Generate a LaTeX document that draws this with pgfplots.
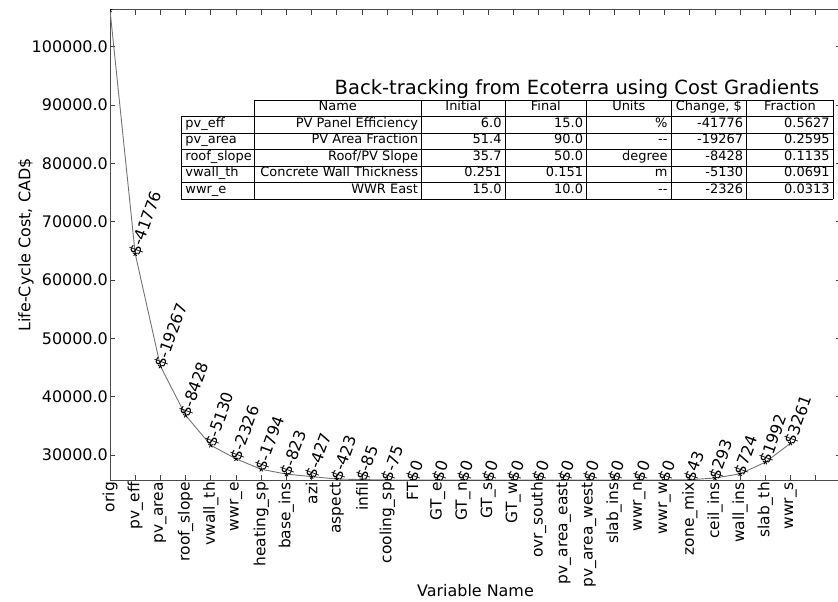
\documentclass[border=0pt]{standalone}
\usepackage{fontspec}
\setmainfont{DejaVu Sans}
\usepackage{pgfplots}
\pgfplotsset{compat=1.18}
\begin{document}
\begin{tikzpicture}
\path[use as bounding box] (0,0) rectangle (838bp,602bp);
\begin{axis}[
  at={(110bp,122bp)}, anchor=south west,
  width=731bp, height=470bp, scale only axis,
  xmin=0, xmax=29, ymin=25713, ymax=106267,
  xtick={0,...,28},
  xticklabels={orig,pv\_eff,pv\_area,roof\_slope,vwall\_th,wwr\_e,heating\_sp,base\_ins,azi,aspect,infil,cooling\_sp,FT,GT\_e,GT\_n,GT\_s,GT\_w,ovr\_south,pv\_area\_east,pv\_area\_west,slab\_ins,wwr\_n,wwr\_w,zone\_mix,ceil\_ins,wall\_ins,slab\_th,wwr\_s,{}},
  x tick label style={rotate=90, anchor=east, font=\fontsize{15.5}{18}\selectfont, inner sep=2bp},
  ytick={30000,40000,...,100000},
  scaled y ticks=false,
  y tick label style={font=\fontsize{16}{19}\selectfont, inner sep=2bp,
    /pgf/number format/fixed, /pgf/number format/fixed zerofill,
    /pgf/number format/precision=1, /pgf/number format/1000 sep={}},
  /pgf/number format/assume math mode=true,
  tick align=inside, major tick length=5bp,
  tick style={black!75, line width=0.8bp},
  axis line style={black!70, line width=1bp},
  clip marker paths=true,
  xlabel={Variable Name}, ylabel={Life-Cycle Cost, CAD\$},
  xlabel style={at={(axis description cs:0.5,-0.236)}, anchor=center, font=\fontsize{16}{19}\selectfont},
  ylabel style={at={(axis description cs:-0.115,0.5)}, anchor=center, font=\fontsize{16}{19}\selectfont},
]
\addplot[black!55, line width=0.9bp, mark=star, mark size=2.6bp,
  mark options={black, solid, line width=0.8bp}]
coordinates {
(0,106267) (1,64491) (2,45224) (3,36796) (4,31666) (5,29340) (6,27546)
(7,26723) (8,26296) (9,25873) (10,25788) (11,25713) (12,25713) (13,25713)
(14,25713) (15,25713) (16,25713) (17,25713) (18,25713) (19,25713) (20,25713)
(21,25713) (22,25713) (23,25756) (24,26049) (25,26773) (26,28765) (27,32026)
};
\addplot[draw=none, mark=none,
  point meta=explicit symbolic, nodes near coords,
  every node near coord/.append style={rotate=70, anchor=west, inner sep=0bp, xshift=-1bp, font=\fontsize{16}{19}\selectfont, black}]
coordinates {
(1,64491) [\$-41776]
(2,45224) [\$-19267]
(3,36796) [\$-8428]
(4,31666) [\$-5130]
(5,29340) [\$-2326]
(6,27546) [\$-1794]
(7,26723) [\$-823]
(8,26296) [\$-427]
(9,25873) [\$-423]
(10,25788) [\$-85]
(11,25713) [\$-75]
(12,25713) [\$0]
(13,25713) [\$0]
(14,25713) [\$0]
(15,25713) [\$0]
(16,25713) [\$0]
(17,25713) [\$0]
(18,25713) [\$0]
(19,25713) [\$0]
(20,25713) [\$0]
(21,25713) [\$0]
(22,25713) [\$0]
(23,25756) [\$43]
(24,26049) [\$293]
(25,26773) [\$724]
(26,28765) [\$1992]
(27,32026) [\$3261]
};
\end{axis}
\begin{scope}[shift={(0,602bp)}, x=1bp, y=-1bp, line width=0.9bp]
\node[anchor=base, font=\fontsize{19.6}{23}\selectfont, inner sep=0] at (577,95) {Back-tracking from Ecoterra using Cost Gradients};
\fill[white] (181,116.5) rectangle (833,199);
\fill[white] (254,100) rectangle (833,116.5);
\draw (254,100) -- (833,100);
\foreach \y in {116.5,133,149.5,166,182.5,199} \draw (181,\y) -- (833,\y);
\draw (181,116.5) -- (181,199);
\foreach \x in {254,421.7,505,586.7,671,746.7,833} \draw (\x,100) -- (\x,199);
\begin{scope}[every node/.style={font=\fontsize{13}{15}\selectfont, inner sep=0}]
\node[anchor=mid] at (337.85,108.25) {Name};
\node[anchor=mid] at (463.35,108.25) {Initial};
\node[anchor=mid] at (545.85,108.25) {Final};
\node[anchor=mid] at (628.85,108.25) {Units};
\node[anchor=mid] at (708.85,108.25) {Change, \$};
\node[anchor=mid] at (789.85,108.25) {Fraction};
% rows
\node[anchor=mid west] at (185,124.75) {pv\_eff};
\node[anchor=mid west] at (185,141.25) {pv\_area};
\node[anchor=mid west] at (185,157.75) {roof\_slope};
\node[anchor=mid west] at (185,174.25) {vwall\_th};
\node[anchor=mid west] at (185,190.75) {wwr\_e};
% Name
\node[anchor=mid east] at (418.5,124.75) {PV Panel Efficiency};
\node[anchor=mid east] at (418.5,141.25) {PV Area Fraction};
\node[anchor=mid east] at (418.5,157.75) {Roof/PV Slope};
\node[anchor=mid east] at (418.5,174.25) {Concrete Wall Thickness};
\node[anchor=mid east] at (418.5,190.75) {WWR East};
% Initial
\node[anchor=mid east] at (502,124.75) {6.0};
\node[anchor=mid east] at (502,141.25) {51.4};
\node[anchor=mid east] at (502,157.75) {35.7};
\node[anchor=mid east] at (502,174.25) {0.251};
\node[anchor=mid east] at (502,190.75) {15.0};
% Final
\node[anchor=mid east] at (583.5,124.75) {15.0};
\node[anchor=mid east] at (583.5,141.25) {90.0};
\node[anchor=mid east] at (583.5,157.75) {50.0};
\node[anchor=mid east] at (583.5,174.25) {0.151};
\node[anchor=mid east] at (583.5,190.75) {10.0};
% Units
\node[anchor=mid east] at (668,124.75) {\%};
\node[anchor=mid east] at (668,141.25) {-{}-};
\node[anchor=mid east] at (668,157.75) {degree};
\node[anchor=mid east] at (668,174.25) {m};
\node[anchor=mid east] at (668,190.75) {-{}-};
% Change
\node[anchor=mid east] at (743.5,124.75) {-41776};
\node[anchor=mid east] at (743.5,141.25) {-19267};
\node[anchor=mid east] at (743.5,157.75) {-8428};
\node[anchor=mid east] at (743.5,174.25) {-5130};
\node[anchor=mid east] at (743.5,190.75) {-2326};
% Fraction
\node[anchor=mid east] at (830,124.75) {0.5627};
\node[anchor=mid east] at (830,141.25) {0.2595};
\node[anchor=mid east] at (830,157.75) {0.1135};
\node[anchor=mid east] at (830,174.25) {0.0691};
\node[anchor=mid east] at (830,190.75) {0.0313};
\end{scope}
\end{scope}
\end{tikzpicture}
\end{document}
